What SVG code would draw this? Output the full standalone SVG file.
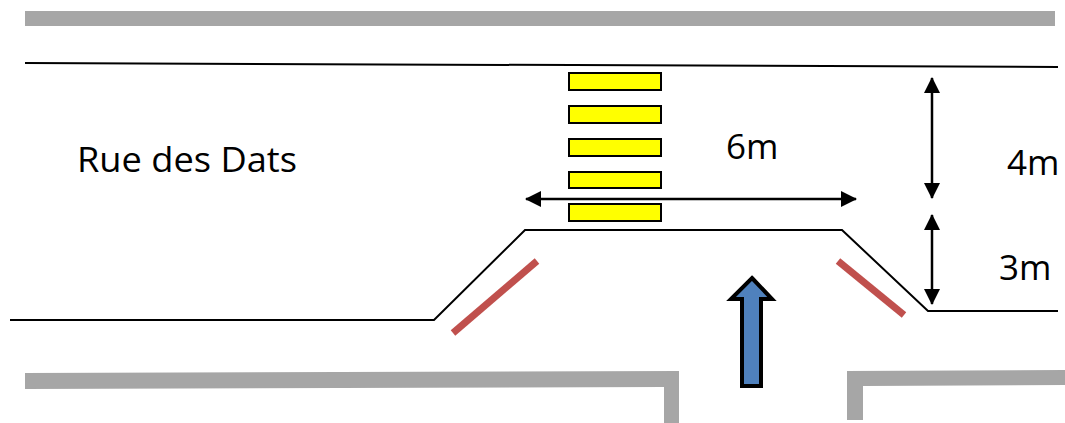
<svg xmlns="http://www.w3.org/2000/svg" width="1065" height="423" viewBox="0 0 1065 423">
<style>
.wall{fill:#A6A6A6;stroke:none}
.curb{fill:none;stroke:#000;stroke-width:2}
.stripe{fill:#FFFF00;stroke:#000;stroke-width:2}
.red{stroke:#C0504D;stroke-width:7;fill:none}
.dim{stroke:#000;stroke-width:2.5;fill:none}
.lbl{font-family:"Open Sans","Liberation Sans",Arial,sans-serif;font-size:35px;fill:#000}
</style>
<defs>
<marker id="ah" viewBox="0 0 16 16" refX="15" refY="8" markerWidth="16" markerHeight="16" markerUnits="userSpaceOnUse" orient="auto-start-reverse">
<path d="M0,0 L16,8 L0,16 Z" fill="#000"/>
</marker>
</defs>
<g id="walls">
<rect class="wall" x="25" y="11" width="1030" height="15"/>
<polygon class="wall" points="25,373 679,371 679,423 664,423 664,387 25,389"/>
<polygon class="wall" points="847,371 1065,370 1065,385 863,386 863,420 847,420"/>
</g>
<g id="road">
<path class="curb" d="M25,63 L1058,67"/>
<path class="curb" d="M10,320 L434,320 L525,230 L842,230 L928,311 L1058,311"/>
</g>
<g id="crossing">
<rect class="stripe" x="569" y="73" width="92" height="17"/>
<rect class="stripe" x="569" y="106" width="92" height="17"/>
<rect class="stripe" x="569" y="139" width="92" height="17"/>
<rect class="stripe" x="569" y="172" width="92" height="16"/>
<rect class="stripe" x="569" y="204" width="92" height="17"/>
</g>
<g id="markings">
<line class="red" x1="453" y1="333" x2="537" y2="261"/>
<line class="red" x1="838" y1="261" x2="904" y2="315"/>
</g>
<g id="blue-arrow">
<polygon points="752,278 772,299 761,299 761,386 742,386 742,299 731,299" fill="#4F81BD" stroke="#000" stroke-width="4" stroke-linejoin="miter"/>
</g>
<g id="connectors">
<line class="dim" x1="526" y1="199" x2="856" y2="199" marker-start="url(#ah)" marker-end="url(#ah)"/>
<line class="dim" x1="932" y1="78" x2="932" y2="198" marker-start="url(#ah)" marker-end="url(#ah)"/>
<line class="dim" x1="932" y1="215" x2="932" y2="304" marker-start="url(#ah)" marker-end="url(#ah)"/>
</g>
<g id="labels">
<text class="lbl" x="77" y="172" textLength="220" lengthAdjust="spacingAndGlyphs">Rue des Dats</text>
<text class="lbl" x="726" y="159">6m</text>
<text class="lbl" x="1007" y="175">4m</text>
<text class="lbl" x="999" y="280">3m</text>
</g>
</svg>
